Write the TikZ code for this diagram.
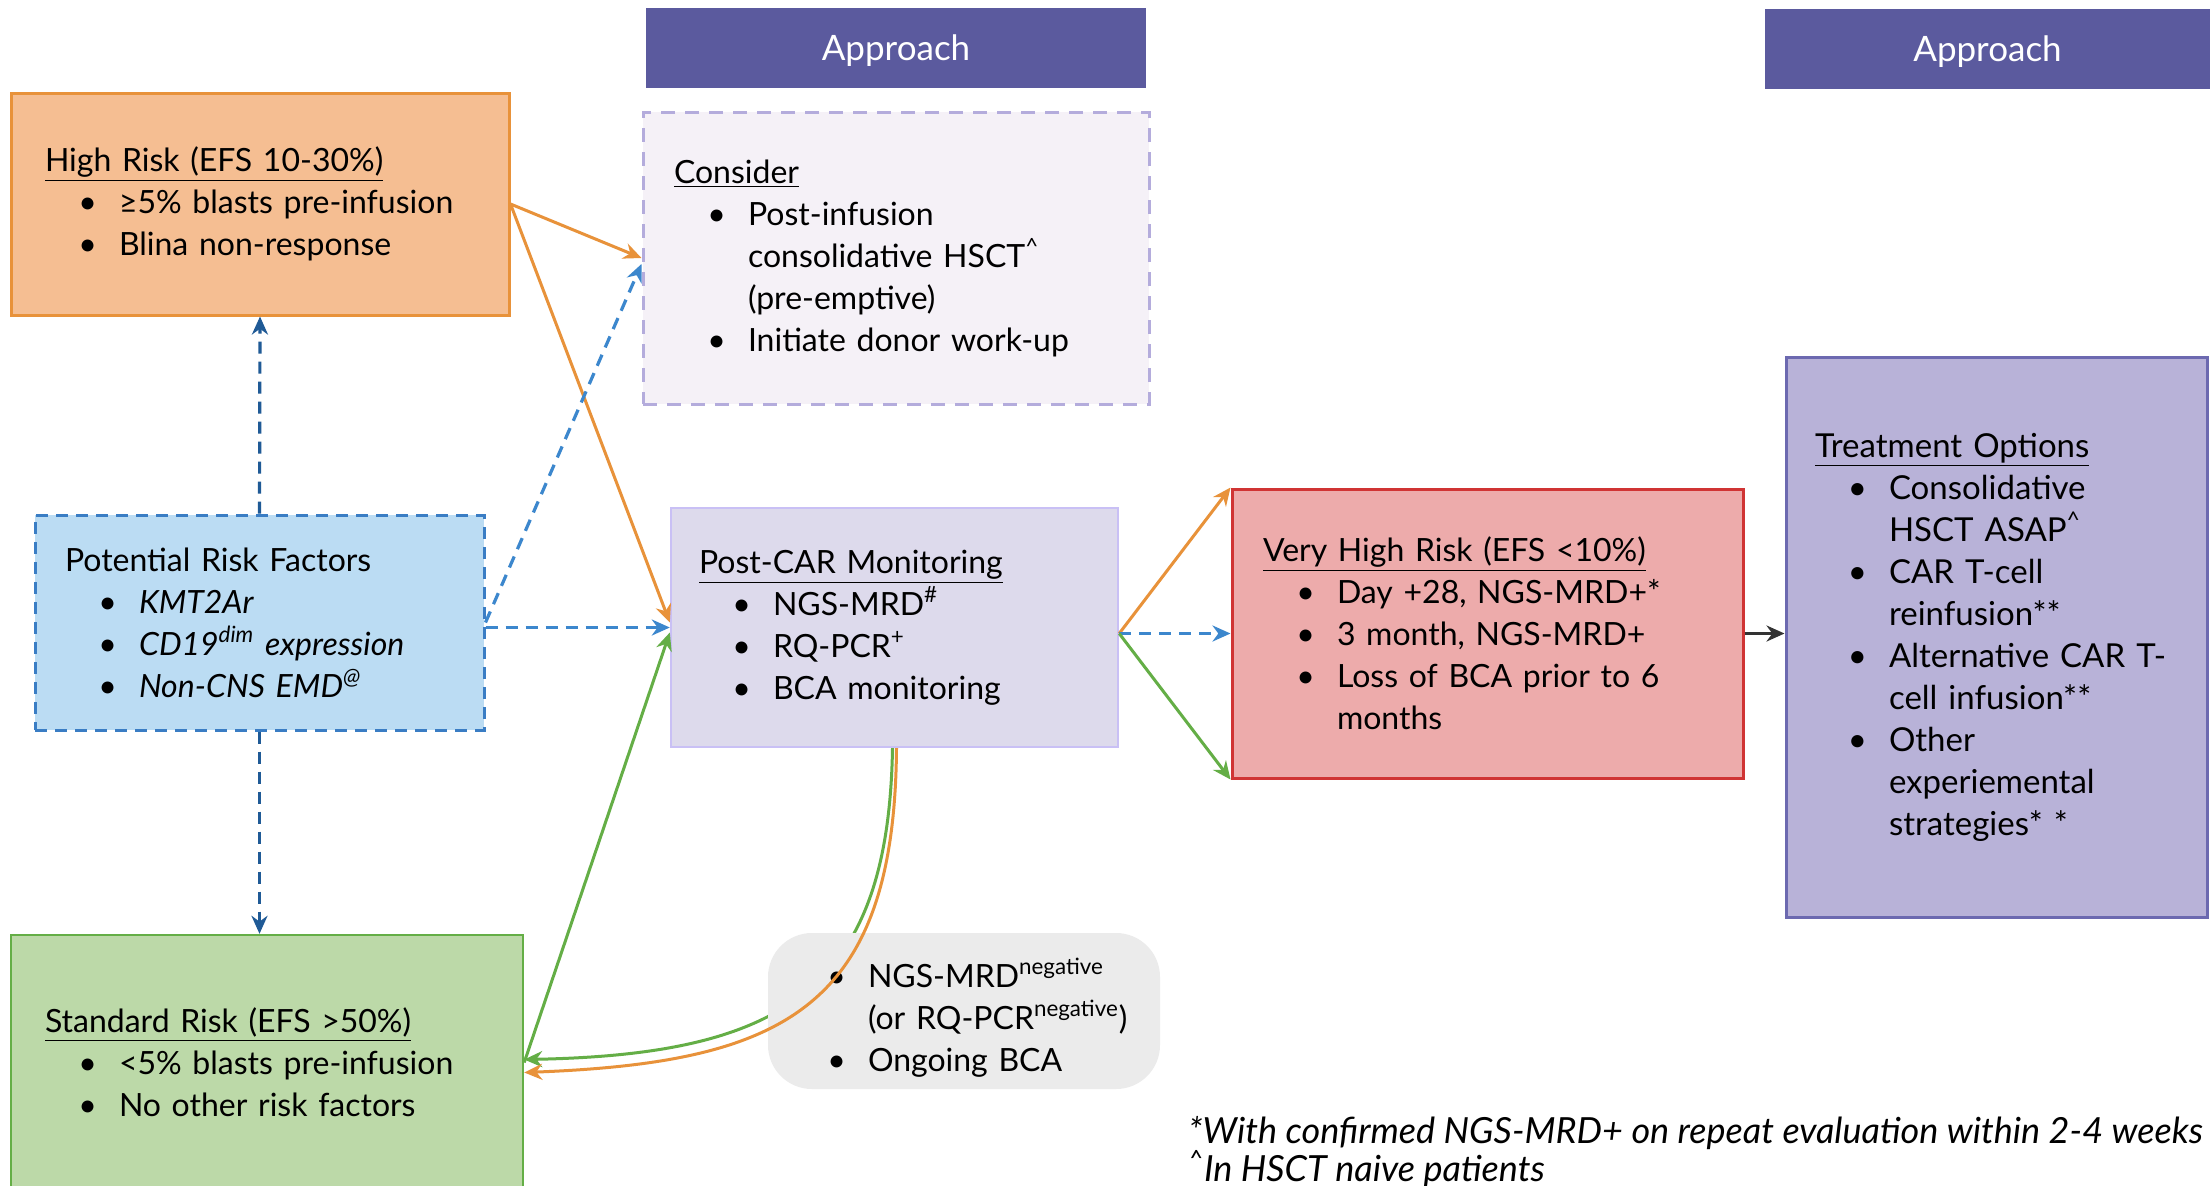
\documentclass[tikz,border=0pt]{standalone}
\usepackage{fontspec}
\setmainfont{Lato}
\usetikzlibrary{arrows.meta,calc}

\definecolor{apprfill}{RGB}{91,90,158}
\definecolor{hiorange}{RGB}{232,146,58}
\definecolor{hifill}{RGB}{245,190,146}
\definecolor{considerfill}{RGB}{245,241,247}
\definecolor{considerline}{RGB}{180,172,220}
\definecolor{prffill}{RGB}{187,220,243}
\definecolor{prfline}{RGB}{58,125,196}
\definecolor{darkblue}{RGB}{31,90,150}
\definecolor{lightblue}{RGB}{60,135,205}
\definecolor{carfill}{RGB}{221,218,236}
\definecolor{carline}{RGB}{201,192,245}
\definecolor{vhrfill}{RGB}{237,171,171}
\definecolor{vhrline}{RGB}{208,52,52}
\definecolor{treatfill}{RGB}{184,178,216}
\definecolor{treatline}{RGB}{108,105,176}
\definecolor{stdfill}{RGB}{188,217,168}
\definecolor{stdgreen}{RGB}{100,174,70}
\definecolor{negfill}{RGB}{235,235,235}

\newenvironment{blist}{\begin{list}{\textbullet}{\setlength\leftmargin{37pt}\setlength\labelsep{11pt}%
  \setlength\labelwidth{26pt}\setlength\rightmargin{-40pt}\setlength\itemsep{0pt}%
  \setlength\parsep{0pt}\setlength\topsep{0pt}\setlength\partopsep{0pt}}}{\end{list}}

\begin{document}
\begin{tikzpicture}[x=0.5pt,y=-0.5pt,>={Stealth[length=9pt,width=8pt]},
	riskbox/.style={draw,align=left,inner ysep=0pt,font=\fontsize{16}{21}\selectfont},
	appr/.style={fill=apprfill,text=white,inner sep=0pt,minimum height=40pt,text depth=0pt,font=\fontsize{17.5}{20}\selectfont},
	orangearrow/.style={->,hiorange,line width=1.5pt},
	greenarrow/.style={->,stdgreen,line width=1.5pt},
	bluedash/.style={->,lightblue,line width=1.6pt,dash pattern=on 6pt off 4pt},
	darkdash/.style={->,darkblue,line width=1.6pt,dash pattern=on 6pt off 4pt}]
	\useasboundingbox (0,0) rectangle (2211,1185);
	\clip (0,0) rectangle (2211,1185);
	\fill[white] (0,0) rectangle (2211,1185);
	% headers
	\node[appr,minimum width=250pt] (appr1) at (896,47.5) {Approach};
	\node[appr,minimum width=222.5pt] (appr2) at (1987.5,49) {Approach};
	% boxes
	\node[riskbox,draw=hiorange,fill=hifill,line width=1.5pt,minimum width=249pt,minimum height=111pt,text width=215pt,inner xsep=17pt] (hirisk) at (260,204)
		{\underline{High Risk (EFS 10-30\%)}\begin{blist}\item ≥5\% blasts pre-infusion\item Blina non-response\end{blist}};
	\node[riskbox,draw=considerline,fill=considerfill,line width=1.5pt,dash pattern=on 7pt off 5pt,minimum width=253pt,minimum height=146pt,text width=222pt,inner xsep=15.5pt] (consider) at (896,258)
		{\underline{Consider}\begin{blist}\item Post-infusion\newline consolidative HSCT\textsuperscript{\textasciicircum}\newline (pre-emptive)\item Initiate donor work-up\end{blist}};
	\node[riskbox,draw=prfline,fill=prffill,line width=1.5pt,dash pattern=on 6pt off 4pt,minimum width=224.5pt,minimum height=107.5pt,text width=194.5pt,inner xsep=15pt] (prf) at (259.5,622.5)
		{Potential Risk Factors\begin{blist}\item \textit{KMT2Ar}\item \textit{CD19\textsuperscript{dim} expression}\item \textit{Non-CNS EMD\textsuperscript{@}}\end{blist}};
	\node[riskbox,draw=carline,fill=carfill,line width=1.2pt,minimum width=223.5pt,minimum height=119.5pt,text width=195.5pt,inner xsep=14pt] (postcar) at (894.5,627.5)
		{\underline{Post-CAR Monitoring}\begin{blist}\item NGS-MRD\textsuperscript{\#}\item RQ-PCR\textsuperscript{+}\item BCA monitoring\end{blist}};
	\node[riskbox,draw=vhrline,fill=vhrfill,line width=1.5pt,minimum width=255.5pt,minimum height=144.5pt,text width=224.5pt,inner xsep=15.5pt] (vhr) at (1487.5,633.5)
		{\underline{Very High Risk (EFS <10\%)}\begin{blist}\item Day +28, NGS-MRD+*\item 3 month, NGS-MRD+\item Loss of BCA prior to 6\newline months\end{blist}};
	\node[riskbox,draw=treatline,fill=treatfill,line width=1.5pt,minimum width=210.5pt,minimum height=280pt,text width=181.5pt,inner xsep=14.5pt,font=\fontsize{16.5}{21}\selectfont] (treat) at (1996.5,637)
		{\underline{Treatment Options}\begin{blist}\item Consolidative\newline HSCT ASAP\textsuperscript{\textasciicircum}\item CAR T-cell\newline reinfusion**\item Alternative CAR T-\newline cell infusion**\item Other\newline experiemental\newline strategies* *\end{blist}};
	\node[riskbox,draw=stdgreen,fill=stdfill,line width=1.2pt,minimum width=256pt,minimum height=127.5pt,text width=222pt,inner xsep=17pt] (stdrisk) at (267,1062.5)
		{\underline{Standard Risk (EFS >50\%)}\begin{blist}\item <5\% blasts pre-infusion\item No other risk factors\end{blist}};
	% connectors
	\draw[orangearrow] (hirisk.east) -- (consider.west);
	\draw[orangearrow] (hirisk.east) -- ([yshift=2.5pt]postcar.west);
	\draw[bluedash] (prf.east) -- ([yshift=-3pt]consider.west);
	\draw[bluedash] (prf.east |- postcar.west) -- (postcar.west);
	\draw[darkdash] (prf.north) -- (hirisk.south);
	\draw[darkdash] (prf.south) -- (prf.south |- stdrisk.north);
	\draw[greenarrow] (stdrisk.east) -- ([yshift=-2.5pt]postcar.west);
	\draw[orangearrow] (vhr.west -| postcar.east) -- (vhr.north west);
	\draw[bluedash] (vhr.west -| postcar.east) -- (vhr.west);
	\draw[greenarrow] (vhr.west -| postcar.east) -- (vhr.south west);
	\draw[->,black!80,line width=1.5pt] (vhr.east) -- (vhr.east -| treat.west);
	\draw[greenarrow] ([xshift=-1pt]postcar.south) .. controls ($(postcar.south)+(-6,240)$) and ($(stdrisk.east)+(260,-8)$) .. ([yshift=1.5pt]stdrisk.east);
	\node[riskbox,draw=none,fill=negfill,rounded corners=22pt,minimum width=196pt,minimum height=78pt,text width=170pt,inner xsep=13pt] (negbox) at (964,1011)
		{\begin{blist}\item NGS-MRD\textsuperscript{negative}\newline (or RQ-PCR\textsuperscript{negative})\item Ongoing BCA\end{blist}};
	\draw[orangearrow] ([xshift=1pt]postcar.south) .. controls ($(postcar.south)+(0,260)$) and ($(stdrisk.east)+(260,0)$) .. ([yshift=-5pt]stdrisk.east);
	% footnotes
	\node[font=\fontsize{18}{19}\selectfont\itshape,align=left,anchor=north west,inner sep=0pt] (notes) at (1188,1116)
		{*With confirmed NGS-MRD+ on repeat evaluation within 2-4 weeks\\\textsuperscript{\textasciicircum}In HSCT naive patients};
\end{tikzpicture}
\end{document}
